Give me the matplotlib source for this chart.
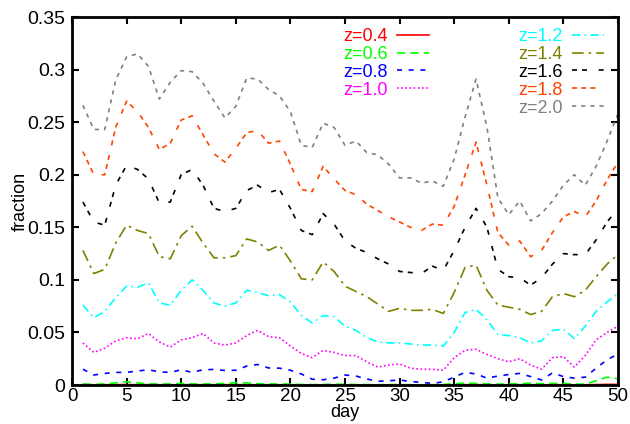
import matplotlib
matplotlib.use("Agg")
import matplotlib.pyplot as plt

plt.rcParams['font.family'] = ['Liberation Sans', 'DejaVu Sans']

days = list(range(1, 51))

z04 = [0.0003, 0.0002, 0.0003, 0.0003, 0.0004, 0.0003, 0.0003, 0.0002, 0.0002, 0.0003,
       0.0003, 0.0002, 0.0002, 0.0003, 0.0003, 0.0003, 0.0002, 0.0002, 0.0002, 0.0002,
       0.0001, 0.0001, 0.0001, 0.0002, 0.0001, 0.0001, 0.0001, 0.0001, 0.0001, 0.0001,
       0.0001, 0.0001, 0.0001, 0.0001, 0.0002, 0.0003, 0.0003, 0.0002, 0.0002, 0.0002,
       0.0002, 0.0003, 0.0002, 0.0002, 0.0002, 0.0002, 0.0002, 0.0004, 0.0006, 0.0005]
z06 = [0.001, 0.0005, 0.001, 0.002, 0.003, 0.002, 0.001, 0.001, 0.001, 0.0015,
       0.001, 0.001, 0.001, 0.0015, 0.0022, 0.002, 0.0012, 0.001, 0.001, 0.0008,
       0.0005, 0.0004, 0.0005, 0.0008, 0.0006, 0.0005, 0.0004, 0.0003, 0.0004, 0.0004,
       0.0003, 0.0002, 0.0003, 0.0005, 0.0012, 0.0018, 0.0015, 0.001, 0.0008, 0.001,
       0.0012, 0.0018, 0.0012, 0.0015, 0.0015, 0.0008, 0.0008, 0.004, 0.0075, 0.006]
z08 = [0.015, 0.0095, 0.011, 0.012, 0.012, 0.0133, 0.0145, 0.0125, 0.012, 0.0145,
       0.012, 0.0145, 0.0148, 0.0138, 0.014, 0.018, 0.0195, 0.0162, 0.016, 0.014,
       0.0105, 0.0055, 0.005, 0.0065, 0.0095, 0.0085, 0.0057, 0.0035, 0.004, 0.0048,
       0.0033, 0.0025, 0.0015, 0.003, 0.0075, 0.012, 0.0105, 0.0065, 0.0085, 0.010,
       0.011, 0.008, 0.0048, 0.0115, 0.008, 0.0065, 0.0075, 0.016, 0.024, 0.0295]
z10 = [0.040, 0.031, 0.035, 0.042, 0.045, 0.044, 0.049, 0.041, 0.036, 0.043,
       0.045, 0.049, 0.040, 0.038, 0.040, 0.047, 0.052, 0.046, 0.045, 0.037,
       0.030, 0.026, 0.033, 0.031, 0.028, 0.028, 0.022, 0.017, 0.019, 0.020,
       0.016, 0.015, 0.015, 0.014, 0.026, 0.033, 0.034, 0.029, 0.025, 0.022,
       0.025, 0.019, 0.015, 0.026, 0.027, 0.017, 0.028, 0.043, 0.050, 0.056]
z12 = [0.076, 0.064, 0.070, 0.083, 0.094, 0.093, 0.097, 0.078, 0.076, 0.090,
       0.100, 0.090, 0.078, 0.075, 0.078, 0.090, 0.088, 0.085, 0.086, 0.079,
       0.066, 0.059, 0.066, 0.065, 0.056, 0.052, 0.045, 0.041, 0.040, 0.040,
       0.039, 0.038, 0.038, 0.037, 0.050, 0.069, 0.072, 0.062, 0.048, 0.047,
       0.045, 0.040, 0.042, 0.052, 0.053, 0.044, 0.056, 0.070, 0.079, 0.087]
z14 = [0.128, 0.106, 0.110, 0.135, 0.152, 0.147, 0.144, 0.122, 0.120, 0.142,
       0.151, 0.135, 0.121, 0.121, 0.123, 0.139, 0.136, 0.128, 0.133, 0.118,
       0.101, 0.100, 0.117, 0.108, 0.094, 0.089, 0.084, 0.077, 0.070, 0.073,
       0.071, 0.071, 0.072, 0.068, 0.088, 0.112, 0.114, 0.090, 0.076, 0.074,
       0.072, 0.067, 0.070, 0.084, 0.087, 0.084, 0.090, 0.103, 0.115, 0.124]
z16 = [0.174, 0.155, 0.152, 0.190, 0.209, 0.205, 0.196, 0.173, 0.174, 0.200,
       0.205, 0.190, 0.168, 0.165, 0.168, 0.185, 0.190, 0.183, 0.186, 0.168,
       0.147, 0.143, 0.163, 0.153, 0.137, 0.130, 0.126, 0.120, 0.115, 0.108,
       0.107, 0.106, 0.113, 0.109, 0.128, 0.150, 0.168, 0.150, 0.110, 0.103,
       0.102, 0.095, 0.102, 0.115, 0.125, 0.124, 0.124, 0.138, 0.155, 0.168]
z18 = [0.222, 0.200, 0.200, 0.245, 0.270, 0.260, 0.245, 0.224, 0.230, 0.252,
       0.256, 0.238, 0.220, 0.212, 0.225, 0.240, 0.242, 0.230, 0.232, 0.210,
       0.186, 0.184, 0.208, 0.196, 0.185, 0.181, 0.172, 0.166, 0.160, 0.155,
       0.150, 0.147, 0.153, 0.152, 0.170, 0.200, 0.231, 0.190, 0.145, 0.133,
       0.137, 0.122, 0.128, 0.145, 0.160, 0.165, 0.160, 0.175, 0.195, 0.212]
z20 = [0.266, 0.243, 0.243, 0.290, 0.312, 0.315, 0.303, 0.272, 0.288, 0.299,
       0.298, 0.287, 0.270, 0.254, 0.265, 0.292, 0.291, 0.281, 0.275, 0.260,
       0.228, 0.226, 0.249, 0.245, 0.228, 0.232, 0.221, 0.219, 0.210, 0.197,
       0.197, 0.192, 0.194, 0.189, 0.215, 0.255, 0.291, 0.245, 0.178, 0.162,
       0.175, 0.156, 0.163, 0.175, 0.190, 0.200, 0.190, 0.208, 0.232, 0.258]

labels = ["z=0.4", "z=0.6", "z=0.8", "z=1.0", "z=1.2", "z=1.4", "z=1.6", "z=1.8", "z=2.0"]
series = [z04, z06, z08, z10, z12, z14, z16, z18, z20]
colors = ["#ff0000", "#00ff00", "#0000ff", "#ff00ff", "#00ffff",
          "#808000", "#000000", "#ff4500", "#808080"]
dashes = ["-", (0, (5, 3)), (0, (3, 4)), (0, (1, 1.5)), (0, (5, 2.5, 1, 2.5)),
          (0, (7, 3, 1.5, 3)), (0, (3, 3, 3, 7)), (0, (3, 2.5, 3, 2.5, 3, 6)), (0, (2.5, 3))]

xticks = [0, 5, 10, 15, 20, 25, 30, 35, 40, 45, 50]
yticks = [0, 0.05, 0.1, 0.15, 0.2, 0.25, 0.3, 0.35]
yticklabels = ["0", "0.05", "0.1", "0.15", "0.2", "0.25", "0.3", "0.35"]

fig = plt.figure(figsize=(6.3, 4.24), dpi=100)
ax = fig.add_axes([72 / 630, 1 - 385 / 424, 546 / 630, 368 / 424])

handles = []
for vals, lab, col, ls in zip(series, labels, colors, dashes):
    h, = ax.plot(days, vals, color=col, linestyle=ls, lw=1.2, label=lab)
    handles.append(h)

ax.set_xlim(0, 50)
ax.set_ylim(0, 0.35)
ax.set_xticks(xticks)
ax.set_xticklabels([str(t) for t in xticks])
ax.set_yticks(yticks)
ax.set_yticklabels(yticklabels)
ax.tick_params(direction="in", top=True, right=True, length=5, width=1.5,
               labelsize=14, pad=5)
ax.tick_params(axis="x", labelsize=13.5, pad=2)
for s in ax.spines.values():
    s.set_linewidth(2)
ax.set_xlabel("day", fontsize=13)
ax.set_ylabel("fraction", fontsize=13)
ax.xaxis.set_label_coords(0.5, (385 - 404) / 368)
ax.yaxis.set_label_coords((29 - 72) / 546, 0.5)

leg_kw = dict(frameon=False, markerfirst=False, fontsize=13, handlelength=1.8,
              handletextpad=0.5, labelspacing=0.05, borderpad=0, borderaxespad=0)
leg1 = ax.legend(handles[:4], labels[:4], loc="upper left",
                 bbox_to_anchor=((343 - 72) / 546, (385 - 28) / 368), **leg_kw)
ax.add_artist(leg1)
leg2 = ax.legend(handles[4:], labels[4:], loc="upper left",
                 bbox_to_anchor=((518 - 72) / 546, (385 - 28) / 368), **leg_kw)
for leg in (leg1, leg2):
    for t, h in zip(leg.get_texts(), leg.legend_handles):
        t.set_color(h.get_color())

fig.savefig("out.png", dpi=100)
